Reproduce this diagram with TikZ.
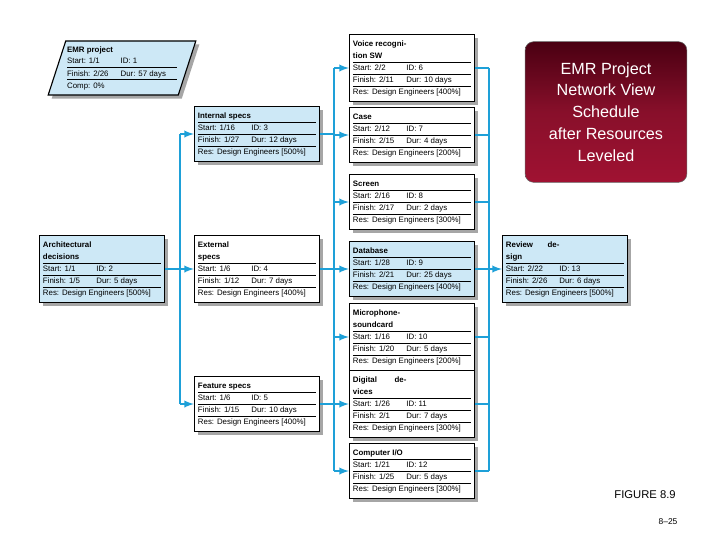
\documentclass[tikz,border=0pt]{standalone}
\usepackage{fontspec}
\setmainfont{Liberation Sans}
\usepackage{array}
\usetikzlibrary{shapes.geometric, arrows, positioning, shadows}
\definecolor{taskblue}{HTML}{CDE8F6}
\definecolor{linkblue}{HTML}{1EA0D8}
\definecolor{darkred}{HTML}{4A0012}
\definecolor{midred}{HTML}{A01232}
\tikzstyle{arrow} = [thick,->,>=latex,draw=linkblue,line width=1.3pt]
\tikzstyle{task}=[draw=black,thick,rectangle,inner sep=2.5pt,font=\fontsize{5.6}{8.6}\selectfont,
  drop shadow={shadow xshift=2.5pt,shadow yshift=-2.5pt,fill=black!35,opacity=1}]
\tikzstyle{summary}=[task,trapezium,trapezium left angle=72,trapezium right angle=108,inner xsep=1pt]
\newcommand{\taskbody}[6]{%
  \renewcommand\arraystretch{0.95}\setlength\tabcolsep{0pt}%
  \begin{tabular}{p{38pt}p{46pt}}
  \textbf{#1} & \\\hline
  Start: #2 & ID: #3 \\\hline
  Finish: #4 & Dur: #5 \\\hline
  \multicolumn{2}{l}{#6}
  \end{tabular}}

\begin{document}
\begin{tikzpicture}[x=0.025cm,y=-0.025cm,>=latex]
    \useasboundingbox (0,0) rectangle (720,540);
    % summary task
    \node[summary, fill=taskblue] (emr) at (122,68) {%
      \renewcommand\arraystretch{0.95}\setlength\tabcolsep{0pt}%
      \fontsize{5.6}{8.6}\selectfont
      \begin{tabular}{p{38pt}p{40pt}}
      \textbf{EMR project} & \\
      Start: 1/1 & ID: 1 \\\hline
      Finish: 2/26 & Dur: 57 days \\\hline
      Comp: 0\% &
      \end{tabular}};
    % first column
    \node[task, fill=taskblue] (arch) at (102,269) {\taskbody{Architectural decisions}{1/1}{2}{1/5}{5 days}{Res: Design Engineers [500\%]}};
    % second column
    \node[task, fill=taskblue] (internal) at (257,134) {\taskbody{Internal specs}{1/16}{3}{1/27}{12 days}{Res: Design Engineers [500\%]}};
    \node[task, fill=white] (external) at (257,269) {\taskbody{External specs}{1/6}{4}{1/12}{7 days}{Res: Design Engineers [400\%]}};
    \node[task, fill=white] (feature) at (257,404) {\taskbody{Feature specs}{1/6}{5}{1/15}{10 days}{Res: Design Engineers [400\%]}};
    % third column
    \node[task, fill=white] (voice) at (412,68) {\taskbody{Voice recognition SW}{2/2}{6}{2/11}{10 days}{Res: Design Engineers [400\%]}};
    \node[task, fill=white] (case) at (412,135) {\taskbody{Case}{2/12}{7}{2/15}{4 days}{Res: Design Engineers [200\%]}};
    \node[task, fill=white] (screen) at (412,202) {\taskbody{Screen}{2/16}{8}{2/17}{2 days}{Res: Design Engineers [300\%]}};
    \node[task, fill=taskblue] (database) at (412,269) {\taskbody{Database}{1/28}{9}{2/21}{25 days}{Res: Design Engineers [400\%]}};
    \node[task, fill=white] (micro) at (412,337) {\taskbody{Microphone-soundcard}{1/16}{10}{1/20}{5 days}{Res: Design Engineers [200\%]}};
    \node[task, fill=white] (digital) at (412,404) {\taskbody{Digital devices}{1/26}{11}{2/1}{7 days}{Res: Design Engineers [300\%]}};
    \node[task, fill=white] (computer) at (412,471) {\taskbody{Computer I/O}{1/21}{12}{1/25}{5 days}{Res: Design Engineers [300\%]}};
    % last column
    \node[task, fill=taskblue] (review) at (565,269) {\taskbody{Review design}{2/22}{13}{2/26}{6 days}{Res: Design Engineers [500\%]}};
    % title
    \node[rounded corners=6pt, draw=black!60, top color=darkred, bottom color=midred, middle color=midred!85!black,
      minimum width=115pt, minimum height=100pt, text=white, align=center,
      font=\fontsize{11.5}{15.5}\selectfont] (title) at (606,112)
      {EMR Project\\Network View\\Schedule\\after Resources\\Leveled};
    \node[font=\fontsize{8}{9}\selectfont] (fig) at (645,495) {FIGURE 8.9};
    \node[font=\fontsize{6}{7}\selectfont] (page) at (668,522) {8--25};

    % links
    \coordinate (b1) at (180,0);
    \coordinate (b2) at (334,0);
    \coordinate (b3) at (489,0);
    \draw[linkblue, line width=1.3pt] (b1 |- internal) -- (b1 |- feature);
    \draw[linkblue, line width=1.3pt] (b2 |- voice) -- (b2 |- computer);
    \draw[linkblue, line width=1.3pt] (b3 |- voice) -- (b3 |- computer);
    \draw[linkblue, line width=1.3pt] (arch) -- (b1 |- arch);
    \foreach \t in {internal, external, feature}{
      \draw[arrow] (b1 |- \t) -- (\t);
      \draw[linkblue, line width=1.3pt] (\t) -- (b2 |- \t);
    }
    \foreach \t in {voice, case, screen, database, micro, digital, computer}{
      \draw[arrow] (b2 |- \t) -- (\t);
      \draw[linkblue, line width=1.3pt] (\t) -- (b3 |- \t);
    }
    \draw[arrow] (b3 |- review) -- (review);
\end{tikzpicture}
\end{document}
